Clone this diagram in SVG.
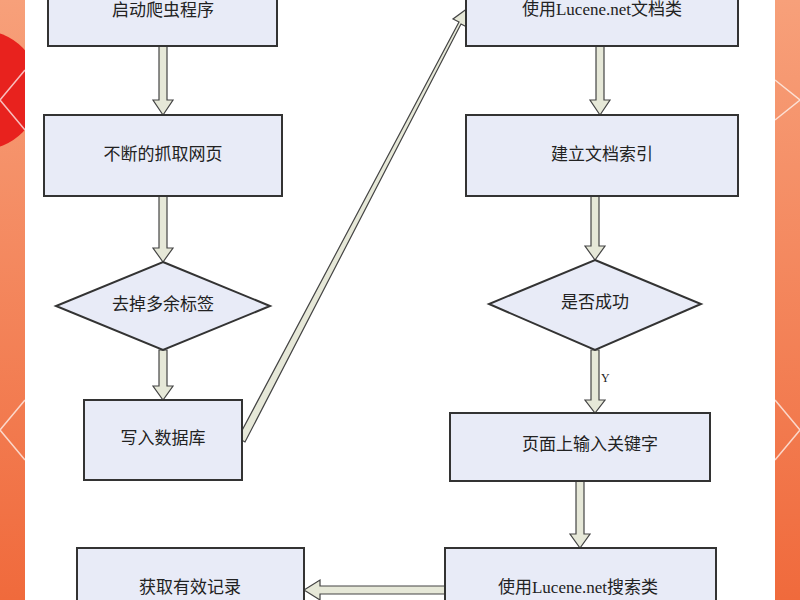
<svg xmlns="http://www.w3.org/2000/svg" width="800" height="600" viewBox="0 0 800 600">
<defs>
<linearGradient id="bg" x1="0" y1="0" x2="0" y2="1"><stop offset="0" stop-color="#f7a07a"/><stop offset="1" stop-color="#f06a3c"/></linearGradient>
<style>
.n{fill:#e8ebf7;stroke:#333;stroke-width:2}
.t{font-family:"Liberation Serif","Noto Sans CJK SC",serif;font-size:17px;fill:#222;text-anchor:middle;dominant-baseline:middle}
.a{fill:#e6e8d8;stroke:#444;stroke-width:1.2}
.d{fill:none;stroke:#fff;stroke-width:1.5;opacity:0.7}
</style>
</defs>
<rect width="800" height="600" fill="url(#bg)"/>
<circle cx="-20" cy="90" r="60" fill="#e8221e"/>
<path class="d" d="M25 70 L0 100 L25 130 M775 80 L800 100 M775 120 L800 100 M25 400 L0 430 L25 460 M775 400 L800 430 L775 460"/>
<rect x="25" y="0" width="750" height="600" fill="#fff"/>
<g id="connectors">
<polygon class="a" points="159,46 167,46 167,100 173,100 163,115 153,100 159,100"/>
<polygon class="a" points="159,196 167,196 167,248 173,248 163,262 153,248 159,248"/>
<polygon class="a" points="159,350 167,350 167,386 173,386 163,400 153,386 159,386"/>
<polygon class="a" points="238,438 245,442 461,24 467,27 468,8 453,19 459,22"/>
<polygon class="a" points="596,46 604,46 604,100 610,100 600,115 590,100 596,100"/>
<polygon class="a" points="591,196 599,196 599,246 605,246 595,260 585,246 591,246"/>
<polygon class="a" points="591,350 599,350 599,400 605,400 595,413 585,400 591,400"/>
<text x="601" y="382" style="font-family:'Liberation Serif',serif;font-size:12px;fill:#222">Y</text>
<polygon class="a" points="576,481 584,481 584,534 590,534 580,548 570,534 576,534"/>
<polygon class="a" points="445,586 320,586 320,580 304,590 320,600 320,594 445,594"/>
</g>
<g id="n1"><rect class="n" x="48" y="-10" width="229" height="56"/><text class="t" x="163" y="12">启动爬虫程序</text></g>
<g id="n2"><rect class="n" x="44" y="115" width="238" height="81"/><text class="t" x="163" y="156">不断的抓取网页</text></g>
<g id="n3"><polygon class="n" points="163,262 270,306 163,350 56,306"/><text class="t" x="163" y="306">去掉多余标签</text></g>
<g id="n4"><rect class="n" x="84" y="400" width="158" height="80"/><text class="t" x="163" y="440">写入数据库</text></g>
<g id="n5"><rect class="n" x="77" y="548" width="227" height="70"/><text class="t" x="190" y="589">获取有效记录</text></g>
<g id="n6"><rect class="n" x="466" y="-10" width="272" height="56"/><text class="t" x="602" y="11">使用Lucene.net文档类</text></g>
<g id="n7"><rect class="n" x="466" y="115" width="272" height="81"/><text class="t" x="602" y="156">建立文档索引</text></g>
<g id="n8"><polygon class="n" points="595,260 701,304 595,350 489,304"/><text class="t" x="595" y="304">是否成功</text></g>
<g id="n9"><rect class="n" x="450" y="413" width="260" height="68"/><text class="t" x="590" y="446">页面上输入关键字</text></g>
<g id="n10"><rect class="n" x="445" y="548" width="271" height="70"/><text class="t" x="578" y="589">使用Lucene.net搜索类</text></g>
</svg>
